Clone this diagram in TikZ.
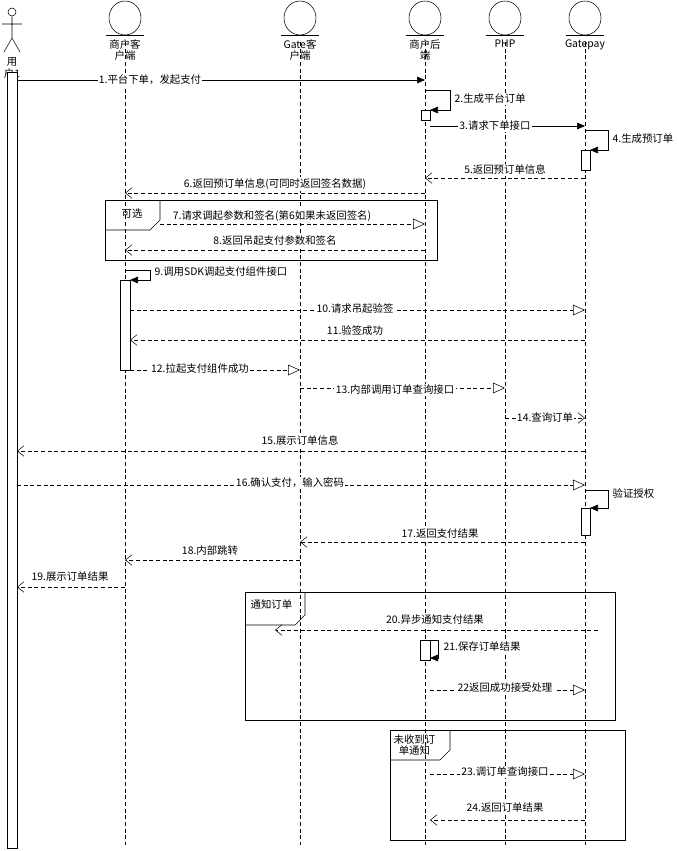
\documentclass[tikz,border=0pt]{standalone}
\usepackage{fontspec}
\setmainfont{Noto Sans CJK SC}
\usetikzlibrary{arrows.meta, positioning, shapes.geometric}

\tikzset{
  ent/.style={draw, ellipse, minimum width=24pt, minimum height=25.5pt, inner sep=0pt},
  lbl/.style={font=\fontsize{7.8}{8.6}\selectfont, align=center, inner sep=1pt},
  msg/.style={font=\fontsize{7.8}{9}\selectfont, fill=white, inner sep=1pt},
  life/.style={densely dashed, thin},
  act/.style={draw, fill=white, thin},
  call/.style={-{Triangle[length=6pt,width=5pt]}, thin},
  req/.style={densely dashed, thin, -{Triangle[open,length=9pt,width=8pt]}},
  ret/.style={densely dashed, thin, -{Straight Barb[length=5pt,width=8pt]}},
  frm/.style={draw, thin}
}

\begin{document}
\begin{tikzpicture}[x=0.75pt, y=-0.75pt]
\useasboundingbox (0,0) rectangle (679,851);

% lifeline heads
\node[ent] (mc) at (125,18) {};
\node[ent] (gc) at (300,18) {};
\node[ent] (mb) at (425,18) {};
\node[ent] (php) at (505,18) {};
\node[ent] (gp) at (585,18) {};
\foreach \n in {mc,gc,mb,php,gp}
  \draw ([xshift=-14]\n.south) -- ([xshift=14]\n.south);
\node[lbl, below=2pt of mc] (mcl) {商户客\\户端};
\node[lbl, below=2pt of gc] (gcl) {Gate客\\户端};
\node[lbl, below=2pt of mb] (mbl) {商户后\\端};
\node[lbl, below=2pt of php] (phpl) {PHP};
\node[lbl, below=2pt of gp] (gpl) {Gatepay};

% actor
\node[draw, circle, minimum size=8pt*0.75, inner sep=0pt] (u) at (12,12) {};
\draw (u.south) -- (12,38) (2,24) -- (22,24) (12,38) -- (4,52) (12,38) -- (20,52);
\node[lbl] (ul) at (12,68) {用\\户1};

% lifelines
\foreach \n in {mc,gc,mb,php,gp}
  \draw[life] (\n.south |- 0,42) -- (\n.south |- 0,845);
\draw[act] (7,72) rectangle (17,848);

% activations
\draw[act] (421,110) rectangle (430,120);
\draw[act] (581,150) rectangle (590,170);
\draw[act] (120,280) rectangle (130,370);
\draw[act] (581,508) rectangle (590,535);
\draw[act] (420,640) rectangle (430,660);

% frames
\draw[frm] (105,200) rectangle (437,260);
\draw[frm] (105,230) -- (150,230) -- (160,220) -- (160,200);
\node[msg, fill=none, anchor=west] (f1) at (120,214) {可选};
\draw[frm] (245,592) rectangle (615,720);
\draw[frm] (245,625) -- (295,625) -- (305,615) -- (305,592);
\node[msg, fill=none, anchor=west] (f2) at (249,605) {通知订单};
\draw[frm] (390,730) rectangle (625,840);
\draw[frm] (390,760) -- (440,760) -- (450,750) -- (450,730);
\node[lbl, anchor=west] (f3) at (392,745) {未收到订\\单通知};

% messages
\draw[call] (17,80) -- (mb.south |- 0,80);
\node[msg] (m1) at (150,80) {1.平台下单，发起支付};
\draw[call] (425,90) -- (450,90) -- (450,110) -- (430,110);
\node[msg, anchor=west] (m2) at (453,99) {2.生成平台订单};
\draw[call] (430,126) -- (gp.south |- 0,126);
\node[msg] (m3) at (495,126) {3.请求下单接口};
\draw[call] (585,130) -- (608,130) -- (608,150) -- (590,150);
\node[msg, anchor=west] (m4) at (611,139) {4.生成预订单};
\draw[ret] (gp.south |- 0,178) -- (mb.south |- 0,178);
\node[msg] (m5) at (505,170) {5.返回预订单信息};
\draw[ret] (mb.south |- 0,193) -- (mc.south |- 0,193);
\node[msg] (m6) at (275,184) {6.返回预订单信息(可同时返回签名数据)};
\draw[req] (160,224) -- (mb.south |- 0,224);
\node[msg] (m7) at (272,216) {7.请求调起参数和签名(第6如果未返回签名)};
\draw[ret] (mb.south |- 0,250) -- (mc.south |- 0,250);
\node[msg] (m8) at (275,241) {8.返回吊起支付参数和签名};
\draw[call] (125,270) -- (150,270) -- (150,280) -- (130,280);
\node[msg, anchor=west] (m9) at (153,272) {9.调用SDK调起支付组件接口};
\draw[req] (130,310) -- (gp.south |- 0,310);
\node[msg] (m10) at (355,309) {10.请求吊起验签};
\draw[ret] (gp.south |- 0,340) -- (130,340);
\node[msg] (m11) at (355,331) {11.验签成功};
\draw[req] (130,370) -- (gc.south |- 0,370);
\node[msg] (m12) at (200,369) {12.拉起支付组件成功};
\draw[req] (gc.south |- 0,388) -- (php.south |- 0,388);
\node[msg] (m13) at (395,390) {13.内部调用订单查询接口};
\draw[ret] (php.south |- 0,418) -- (gp.south |- 0,418);
\node[msg] (m14) at (545,418) {14.查询订单};
\draw[ret] (gp.south |- 0,451) -- (17,451);
\node[msg] (m15) at (300,441) {15.展示订单信息};
\draw[req] (17,485) -- (gp.south |- 0,485);
\node[msg] (m16) at (290,483) {16.确认支付，输入密码};
\draw[call] (585,490) -- (608,490) -- (608,508) -- (590,508);
\node[msg, anchor=west] (m16b) at (611,494) {验证授权};
\draw[ret] (gp.south |- 0,542) -- (gc.south |- 0,542);
\node[msg] (m17) at (440,534) {17.返回支付结果};
\draw[ret] (gc.south |- 0,560) -- (mc.south |- 0,560);
\node[msg] (m18) at (210,551) {18.内部跳转};
\draw[ret] (mc.south |- 0,587) -- (17,587);
\node[msg] (m19) at (70,577) {19.展示订单结果};
\draw[ret] (598,630) -- (275,630);
\node[msg] (m20) at (435,620) {20.异步通知支付结果};
\draw[call] (430,640) -- (438,640) -- (438,658) -- (430,658);
\node[msg, anchor=west] (m21) at (442,647) {21.保存订单结果};
\draw[req] (430,690) -- (gp.south |- 0,690);
\node[msg] (m22) at (505,688) {22返回成功接受处理};
\draw[req] (430,774) -- (gp.south |- 0,774);
\node[msg] (m23) at (505,772) {23.调订单查询接口};
\draw[ret] (gp.south |- 0,820) -- (430,820);
\node[msg] (m24) at (505,808) {24.返回订单结果};
\end{tikzpicture}
\end{document}
